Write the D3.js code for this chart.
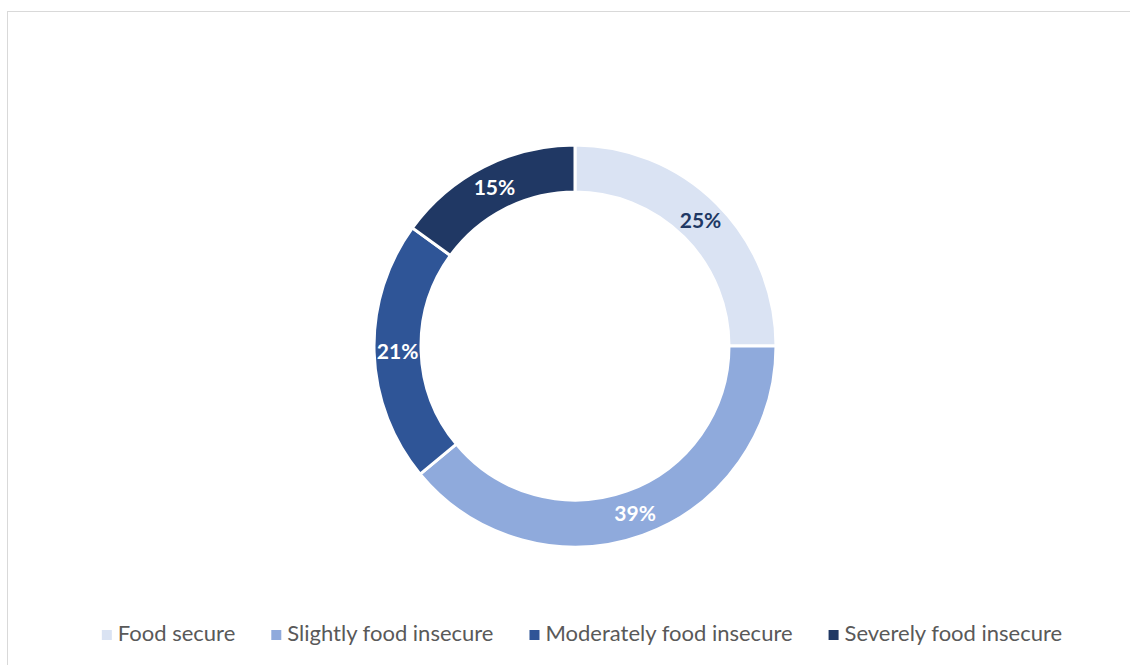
<!DOCTYPE html>
<html lang="en">
<head>
    <meta charset="UTF-8">
    <title>Food security</title>
    <script src="https://d3js.org/d3.v7.min.js"></script>
    <style>
        body {margin: 0; background: #fff;}
        text {font-family: Lato, "Open Sans", sans-serif;}
    </style>
</head>
<body>
<script>
    const width = 1130;
    const height = 665;

    const categories = ["Food secure", "Slightly food insecure", "Moderately food insecure", "Severely food insecure"];
    const values = [25, 39, 21, 15];
    const colors = ["#dae3f3", "#8faadc", "#2f5597", "#203864"];
    const labelColors = ["#203864", "#ffffff", "#ffffff", "#ffffff"];

    const svg = d3.select("body").append("svg")
            .attr("width", width).attr("height", height);

    // chart frame (right and bottom edges fall outside the picture)
    svg.append("rect")
            .attr("x", 7.5).attr("y", 11.5)
            .attr("width", width).attr("height", height)
            .style("fill", "none")
            .style("stroke", "#d9d9d9")
            .style("stroke-width", 1);

    const cx = 575, cy = 346;
    const outer = 201, inner = 154;

    const data = categories.map((c, i) => ({name: c, value: values[i], color: colors[i], label: labelColors[i]}));

    const pie = d3.pie().sort(null).value(d => d.value);
    const arc = d3.arc().innerRadius(inner).outerRadius(outer);

    const g = svg.append("g").attr("transform", `translate(${cx},${cy})`);

    const slices = g.selectAll("g.slice")
            .data(pie(data))
            .enter()
            .append("g")
            .attr("class", "slice");

    slices.append("path")
            .attr("d", arc)
            .style("fill", d => d.data.color)
            .style("stroke", "white")
            .style("stroke-width", 3);

    slices.append("text")
            .attr("transform", d => `translate(${arc.centroid(d)})`)
            .attr("text-anchor", "middle")
            .attr("dy", "0.36em")
            .style("font-size", "21px")
            .style("font-weight", "bold")
            .style("fill", d => d.data.label)
            .text(d => d3.format(".0%")(d.data.value / d3.sum(values)));

    // legend
    const legend = svg.append("g").attr("class", "legend");
    const items = legend.selectAll("g.item")
            .data(data)
            .enter()
            .append("g")
            .attr("class", "item");

    items.append("rect")
            .attr("width", 10).attr("height", 10)
            .attr("y", -11)
            .style("fill", d => d.color);

    items.append("text")
            .attr("x", 16)
            .style("font-size", "22px")
            .style("fill", "#595959")
            .text(d => d.name);

    let x = 0;
    const gap = 36;
    items.each(function () {
        const w = 16 + this.querySelector("text").getComputedTextLength();
        d3.select(this).attr("data-x", x);
        x += w + gap;
    });
    const total = x - gap;
    const startX = 582 - total / 2;
    items.attr("transform", function () {
        return `translate(${startX + (+this.getAttribute("data-x"))},641)`;
    });
</script>
</body>
</html>
